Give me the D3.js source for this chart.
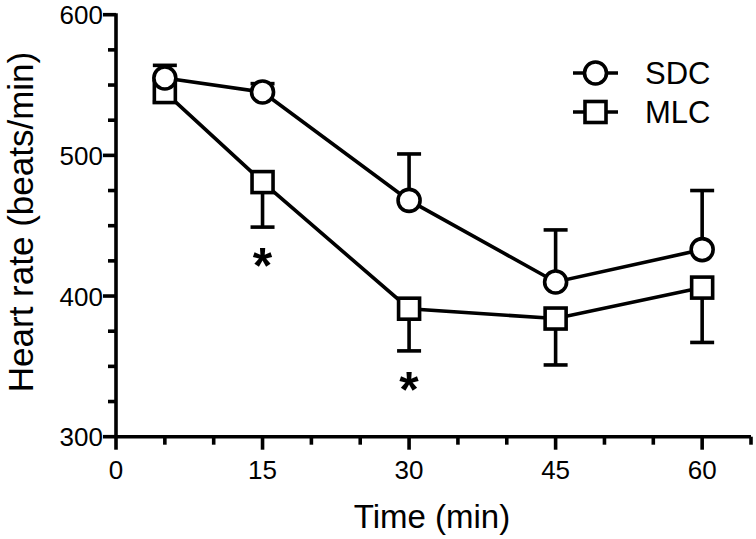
<!DOCTYPE html>
<html>
<head>
<meta charset="utf-8">
<script src="https://cdn.jsdelivr.net/npm/d3@7"></script>
<style>
  body { margin: 0; background: #fff; }
  text { font-family: "Liberation Sans", Arial, sans-serif; fill: #000; }
</style>
</head>
<body>
<div id="wrapper"></div>
<script>
// data
const times = [5, 15, 30, 45, 60]
const sdcMean = [555, 545, 468, 410, 433]
const sdcErr = [9, 6, 33, 37, 42]
const mlcMean = [545, 481, 391, 384, 406]
const mlcErr = [7, 32, 30, 33, 39]
const starTimes = [15, 30]
const xTicks = [0, 15, 30, 45, 60]
const yTicks = [300, 400, 500, 600]
const seriesNames = ["SDC", "MLC"]

const width = 756
const height = 539

const svg = d3.select("#wrapper")
    .append("svg")
    .attr("width", width)
    .attr("height", height)

const xScale = d3.scaleLinear().domain([0, 65]).range([116, 751])
const yScale = d3.scaleLinear().domain([300, 600]).range([436.7, 14.7])

const sw = 3.6

// x axis
const xAxis = svg.append("g")
xAxis.append("line")
    .attr("x1", xScale(0)).attr("x2", xScale(65))
    .attr("y1", yScale(300)).attr("y2", yScale(300))
    .attr("stroke", "black").attr("stroke-width", sw)
xAxis.selectAll(".xt")
    .data(d3.range(0, 66, 5))
    .enter().append("line")
    .attr("x1", d => xScale(d)).attr("x2", d => xScale(d))
    .attr("y1", yScale(300))
    .attr("y2", d => yScale(300) + (d % 15 == 0 ? 13 : 8))
    .attr("stroke", "black").attr("stroke-width", sw)
xAxis.selectAll(".xl")
    .data(xTicks)
    .enter().append("text")
    .attr("x", d => xScale(d))
    .attr("y", yScale(300) + 42)
    .attr("text-anchor", "middle")
    .attr("font-size", "26px")
    .text(d => d)
svg.append("text")
    .attr("x", 432)
    .attr("y", 528)
    .attr("text-anchor", "middle")
    .attr("font-size", "33px")
    .text("Time (min)")

// y axis
const yAxis = svg.append("g")
yAxis.append("line")
    .attr("x1", xScale(0)).attr("x2", xScale(0))
    .attr("y1", yScale(600) - 1.5).attr("y2", yScale(300))
    .attr("stroke", "black").attr("stroke-width", sw)
yAxis.selectAll(".yt")
    .data(d3.range(300, 601, 25))
    .enter().append("line")
    .attr("y1", d => yScale(d)).attr("y2", d => yScale(d))
    .attr("x1", xScale(0))
    .attr("x2", d => xScale(0) - (d % 100 == 0 ? 13 : 8))
    .attr("stroke", "black").attr("stroke-width", sw)
yAxis.selectAll(".yl")
    .data(yTicks)
    .enter().append("text")
    .attr("x", xScale(0) - 13)
    .attr("y", d => yScale(d) + 9.5)
    .attr("text-anchor", "end")
    .attr("font-size", "26px")
    .text(d => d)
svg.append("text")
    .attr("transform", "translate(33,222) rotate(-90)")
    .attr("text-anchor", "middle")
    .attr("font-size", "35px")
    .text("Heart rate (beats/min)")

// error bars: SDC up, MLC down
const capW = 12
function errorBars(means, errs, dir) {
    const g = svg.append("g")
    times.forEach((t, i) => {
        const x = xScale(t)
        const y0 = yScale(means[i])
        const y1 = yScale(means[i] + dir * errs[i])
        g.append("line")
            .attr("x1", x).attr("x2", x).attr("y1", y0).attr("y2", y1)
            .attr("stroke", "black").attr("stroke-width", sw)
        g.append("line")
            .attr("x1", x - capW).attr("x2", x + capW).attr("y1", y1).attr("y2", y1)
            .attr("stroke", "black").attr("stroke-width", sw)
    })
}
errorBars(sdcMean, sdcErr, 1)
errorBars(mlcMean, mlcErr, -1)

// lines
const line = d3.line()
    .x(d => xScale(d[0]))
    .y(d => yScale(d[1]))
svg.append("path")
    .datum(times.map((t, i) => [t, sdcMean[i]]))
    .attr("d", line)
    .attr("fill", "none").attr("stroke", "black").attr("stroke-width", sw)
svg.append("path")
    .datum(times.map((t, i) => [t, mlcMean[i]]))
    .attr("d", line)
    .attr("fill", "none").attr("stroke", "black").attr("stroke-width", sw)

// markers
const sq = 21
const rad = 11
svg.append("g").selectAll("rect")
    .data(times.map((t, i) => [t, mlcMean[i]]))
    .enter().append("rect")
    .attr("x", d => xScale(d[0]) - sq / 2)
    .attr("y", d => yScale(d[1]) - sq / 2)
    .attr("width", sq).attr("height", sq)
    .attr("fill", "white").attr("stroke", "black").attr("stroke-width", sw)
svg.append("g").selectAll("circle")
    .data(times.map((t, i) => [t, sdcMean[i]]))
    .enter().append("circle")
    .attr("cx", d => xScale(d[0]))
    .attr("cy", d => yScale(d[1]))
    .attr("r", rad)
    .attr("fill", "white").attr("stroke", "black").attr("stroke-width", sw)

// significance stars under MLC error bars
svg.append("g").selectAll("text")
    .data(starTimes)
    .enter().append("text")
    .attr("x", d => xScale(d))
    .attr("y", d => {
        const i = times.indexOf(d)
        return yScale(mlcMean[i] - mlcErr[i]) + 56
    })
    .attr("text-anchor", "middle")
    .attr("font-size", "50px")
    .attr("font-weight", "bold")
    .text("*")

// legend
const legend = svg.append("g")
const legY = [73, 112]
seriesNames.forEach((name, i) => {
    legend.append("line")
        .attr("x1", 573).attr("x2", 618).attr("y1", legY[i]).attr("y2", legY[i])
        .attr("stroke", "black").attr("stroke-width", sw)
    if (i == 0) {
        legend.append("circle")
            .attr("cx", 595.5).attr("cy", legY[i]).attr("r", rad)
            .attr("fill", "white").attr("stroke", "black").attr("stroke-width", sw)
    } else {
        legend.append("rect")
            .attr("x", 595.5 - sq / 2).attr("y", legY[i] - sq / 2)
            .attr("width", sq).attr("height", sq)
            .attr("fill", "white").attr("stroke", "black").attr("stroke-width", sw)
    }
    legend.append("text")
        .attr("x", 645).attr("y", legY[i] + 11)
        .attr("font-size", "31px")
        .text(name)
})
</script>
</body>
</html>
